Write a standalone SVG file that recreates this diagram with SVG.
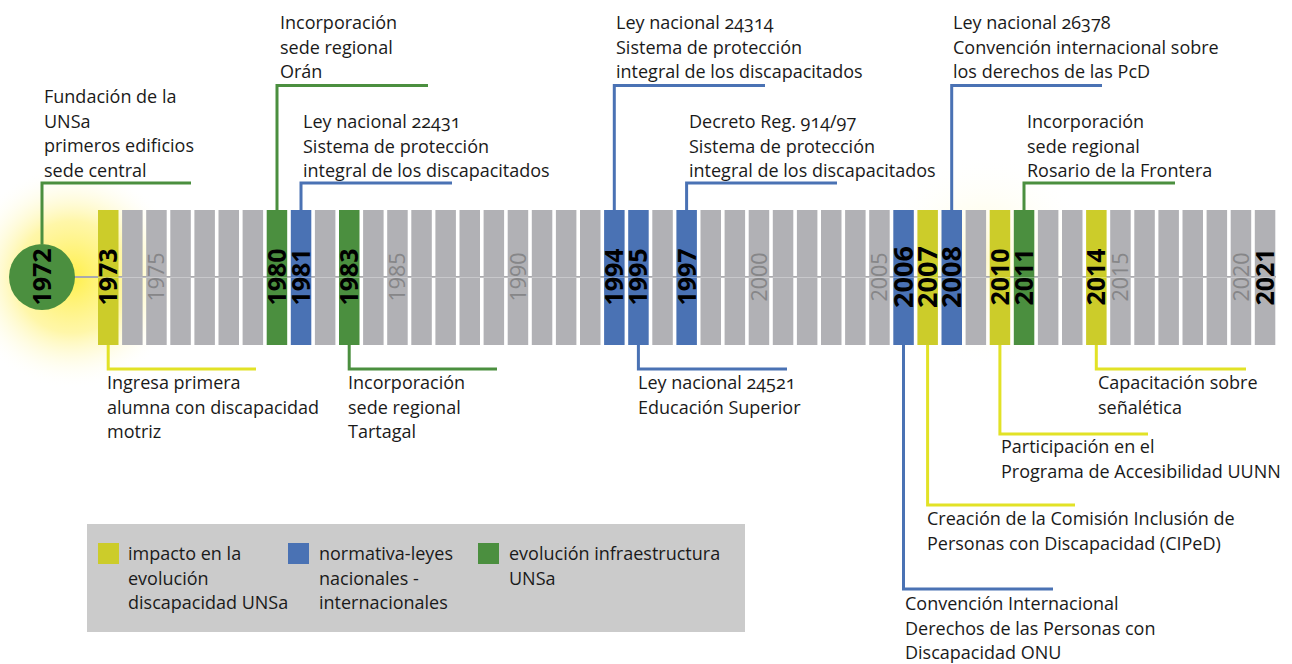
<svg xmlns="http://www.w3.org/2000/svg" width="1292" height="664" viewBox="0 0 1292 664">
  <defs>
    <radialGradient id="glow" cx="72" cy="277" r="112" gradientUnits="userSpaceOnUse">
      <stop offset="0" stop-color="#fff04a" stop-opacity="1"/>
      <stop offset="0.5" stop-color="#fff27a" stop-opacity="0.65"/>
      <stop offset="1" stop-color="#ffffff" stop-opacity="0"/>
    </radialGradient>
    <radialGradient id="glow2" cx="985" cy="260" r="110" gradientUnits="userSpaceOnUse">
      <stop offset="0" stop-color="#fff27a" stop-opacity="0.35"/>
      <stop offset="1" stop-color="#ffffff" stop-opacity="0"/>
    </radialGradient>
    <style>
      .lbl { font-family: "Open Sans", "Liberation Sans", sans-serif; font-size: 18px; font-weight: 500; fill: #1a1a1a; font-variant-numeric: oldstyle-nums; }
      .yr { font-family: "Open Sans", "Liberation Sans", sans-serif; font-size: 25px; font-weight: bold; fill: #000; text-anchor: middle; }
      .yrb { font-size: 27px; }
      .yg { font-family: "Open Sans", "Liberation Sans", sans-serif; font-size: 21.5px; fill: #868688; text-anchor: middle; }
      .bar { stroke: none; }
      .g { fill: #b1b1b5; }
      .Y { fill: #cccc2a; }
      .B { fill: #4a72b4; }
      .G { fill: #4b8f3f; }
      .c { fill: none; stroke-width: 3; stroke-linejoin: miter; stroke-linecap: butt; }
      .cY { stroke: #e2e226; }
      .cB { stroke: #4a72b4; }
      .cG { stroke: #4b8f3f; }
    </style>
  </defs>
  <rect width="1292" height="664" fill="#ffffff"/>
  <circle cx="72" cy="277" r="112" fill="url(#glow)"/>
  <circle cx="985" cy="260" r="110" fill="url(#glow2)"/>
  <line x1="70" y1="277" x2="1276" y2="277" stroke="#a9a9ad" stroke-width="2"/>

  <g id="bars">
    <rect class="bar Y" x="98" y="210" width="20.5" height="135"/>
    <rect class="bar g" x="122.1" y="210" width="20.5" height="135"/>
    <rect class="bar g" x="146.2" y="210" width="20.5" height="135"/>
    <rect class="bar g" x="170.3" y="210" width="20.5" height="135"/>
    <rect class="bar g" x="194.4" y="210" width="20.5" height="135"/>
    <rect class="bar g" x="218.5" y="210" width="20.5" height="135"/>
    <rect class="bar g" x="242.6" y="210" width="20.5" height="135"/>
    <rect class="bar G" x="266.7" y="210" width="20.5" height="135"/>
    <rect class="bar B" x="290.8" y="210" width="20.5" height="135"/>
    <rect class="bar g" x="314.9" y="210" width="20.5" height="135"/>
    <rect class="bar G" x="339" y="210" width="20.5" height="135"/>
    <rect class="bar g" x="363.1" y="210" width="20.5" height="135"/>
    <rect class="bar g" x="387.2" y="210" width="20.5" height="135"/>
    <rect class="bar g" x="411.3" y="210" width="20.5" height="135"/>
    <rect class="bar g" x="435.4" y="210" width="20.5" height="135"/>
    <rect class="bar g" x="459.5" y="210" width="20.5" height="135"/>
    <rect class="bar g" x="483.6" y="210" width="20.5" height="135"/>
    <rect class="bar g" x="507.7" y="210" width="20.5" height="135"/>
    <rect class="bar g" x="531.8" y="210" width="20.5" height="135"/>
    <rect class="bar g" x="555.9" y="210" width="20.5" height="135"/>
    <rect class="bar g" x="580" y="210" width="20.5" height="135"/>
    <rect class="bar B" x="604.1" y="210" width="20.5" height="135"/>
    <rect class="bar B" x="628.2" y="210" width="20.5" height="135"/>
    <rect class="bar g" x="652.3" y="210" width="20.5" height="135"/>
    <rect class="bar B" x="676.4" y="210" width="20.5" height="135"/>
    <rect class="bar g" x="700.5" y="210" width="20.5" height="135"/>
    <rect class="bar g" x="724.6" y="210" width="20.5" height="135"/>
    <rect class="bar g" x="748.7" y="210" width="20.5" height="135"/>
    <rect class="bar g" x="772.8" y="210" width="20.5" height="135"/>
    <rect class="bar g" x="796.9" y="210" width="20.5" height="135"/>
    <rect class="bar g" x="821" y="210" width="20.5" height="135"/>
    <rect class="bar g" x="845.1" y="210" width="20.5" height="135"/>
    <rect class="bar g" x="869.2" y="210" width="20.5" height="135"/>
    <rect class="bar B" x="893.3" y="210" width="20.5" height="135"/>
    <rect class="bar Y" x="917.4" y="210" width="20.5" height="135"/>
    <rect class="bar B" x="941.5" y="210" width="20.5" height="135"/>
    <rect class="bar g" x="965.6" y="210" width="20.5" height="135"/>
    <rect class="bar Y" x="989.7" y="210" width="20.5" height="135"/>
    <rect class="bar G" x="1013.8" y="210" width="20.5" height="135"/>
    <rect class="bar g" x="1037.9" y="210" width="20.5" height="135"/>
    <rect class="bar g" x="1062" y="210" width="20.5" height="135"/>
    <rect class="bar Y" x="1086.1" y="210" width="20.5" height="135"/>
    <rect class="bar g" x="1110.2" y="210" width="20.5" height="135"/>
    <rect class="bar g" x="1134.3" y="210" width="20.5" height="135"/>
    <rect class="bar g" x="1158.4" y="210" width="20.5" height="135"/>
    <rect class="bar g" x="1182.5" y="210" width="20.5" height="135"/>
    <rect class="bar g" x="1206.6" y="210" width="20.5" height="135"/>
    <rect class="bar g" x="1230.7" y="210" width="20.5" height="135"/>
    <rect class="bar g" x="1254.8" y="210" width="20.5" height="135"/>
    <line x1="98" y1="277.5" x2="1276" y2="277.5" stroke="#ffffff" stroke-opacity="0.3" stroke-width="1"/>
  </g>

  <g id="year-labels">
    <text class="yg" transform="translate(164.2,277) rotate(-90)">1975</text>
    <text class="yg" transform="translate(405.2,277) rotate(-90)">1985</text>
    <text class="yg" transform="translate(525.7,277) rotate(-90)">1990</text>
    <text class="yg" transform="translate(766.7,277) rotate(-90)">2000</text>
    <text class="yg" transform="translate(887.2,277) rotate(-90)">2005</text>
    <text class="yg" transform="translate(1128.2,277) rotate(-90)">2015</text>
    <text class="yg" transform="translate(1248.7,277) rotate(-90)">2020</text>
  </g>

  <g id="connectors">
    <path class="c cG" d="M42,244 V183 H191"/>
    <path class="c cG" d="M277,210 V85.5 H428"/>
    <path class="c cB" d="M301,210 V183 H452"/>
    <path class="c cB" d="M614.3,210 V85.5 H765"/>
    <path class="c cB" d="M686.6,210 V183 H837"/>
    <path class="c cB" d="M951.7,210 V85.5 H1102"/>
    <path class="c cG" d="M1024,210 V183 H1175"/>
    <path class="c cY" d="M108.2,345 V369 H256"/>
    <path class="c cG" d="M349.2,345 V369 H497"/>
    <path class="c cB" d="M638.4,345 V369 H787"/>
    <path class="c cY" d="M1096.3,345 V369 H1246"/>
    <path class="c cY" d="M999.9,345 V434 H1148"/>
    <path class="c cY" d="M927.6,345 V505 H1075"/>
    <path class="c cB" d="M903.5,345 V589 H1053"/>
  </g>

  <g id="node-1972">
    <circle cx="42" cy="277" r="33" fill="#4b8f3f"/>
    <text class="yr" transform="translate(50.9,277) rotate(-90)">1972</text>
    <text class="lbl" x="44"><tspan x="44" y="103">Fundación de la</tspan><tspan x="44" y="127.5">UNSa</tspan><tspan x="44" y="152">primeros edificios</tspan><tspan x="44" y="176.5">sede central</tspan></text>
  </g>
  <g id="node-1973">
    <text class="yr" transform="translate(117.1,277) rotate(-90)">1973</text>
    <text class="lbl"><tspan x="107" y="389">Ingresa primera</tspan><tspan x="107" y="413.5">alumna con discapacidad</tspan><tspan x="107" y="438">motriz</tspan></text>
  </g>
  <g id="node-1980">
    <text class="yr" transform="translate(285.8,277) rotate(-90)">1980</text>
    <text class="lbl"><tspan x="280" y="29">Incorporación</tspan><tspan x="280" y="53.5">sede regional</tspan><tspan x="280" y="78">Orán</tspan></text>
  </g>
  <g id="node-1981">
    <text class="yr" transform="translate(309.9,277) rotate(-90)">1981</text>
    <text class="lbl"><tspan x="303" y="128">Ley nacional 22431</tspan><tspan x="303" y="152.5">Sistema de protección</tspan><tspan x="303" y="177">integral de los discapacitados</tspan></text>
  </g>
  <g id="node-1983">
    <text class="yr" transform="translate(358.1,277) rotate(-90)">1983</text>
    <text class="lbl"><tspan x="348" y="389">Incorporación</tspan><tspan x="348" y="413.5">sede regional</tspan><tspan x="348" y="438">Tartagal</tspan></text>
  </g>
  <g id="node-1994">
    <text class="yr" transform="translate(623.2,277) rotate(-90)">1994</text>
    <text class="lbl"><tspan x="616" y="29">Ley nacional 24314</tspan><tspan x="616" y="53.5">Sistema de protección</tspan><tspan x="616" y="78">integral de los discapacitados</tspan></text>
  </g>
  <g id="node-1995">
    <text class="yr" transform="translate(647.3,277) rotate(-90)">1995</text>
    <text class="lbl"><tspan x="638" y="389">Ley nacional 24521</tspan><tspan x="638" y="413.5">Educación Superior</tspan></text>
  </g>
  <g id="node-1997">
    <text class="yr" transform="translate(695.5,277) rotate(-90)">1997</text>
    <text class="lbl"><tspan x="689" y="128">Decreto Reg. 914/97</tspan><tspan x="689" y="152.5">Sistema de protección</tspan><tspan x="689" y="177">integral de los discapacitados</tspan></text>
  </g>
  <g id="node-2006">
    <text class="yr yrb" transform="translate(913.1,277) rotate(-90)">2006</text>
    <text class="lbl"><tspan x="905" y="610">Convención Internacional</tspan><tspan x="905" y="634.5">Derechos de las Personas con</tspan><tspan x="905" y="659">Discapacidad ONU</tspan></text>
  </g>
  <g id="node-2007">
    <text class="yr yrb" transform="translate(937.2,277) rotate(-90)">2007</text>
    <text class="lbl"><tspan x="927" y="525">Creación de la Comisión Inclusión de</tspan><tspan x="927" y="549.5">Personas con Discapacidad (CIPeD)</tspan></text>
  </g>
  <g id="node-2008">
    <text class="yr yrb" transform="translate(961.3,277) rotate(-90)">2008</text>
    <text class="lbl"><tspan x="953" y="29">Ley nacional 26378</tspan><tspan x="953" y="53.5">Convención internacional sobre</tspan><tspan x="953" y="78">los derechos de las PcD</tspan></text>
  </g>
  <g id="node-2010">
    <text class="yr" transform="translate(1008.8,277) rotate(-90)">2010</text>
    <text class="lbl"><tspan x="1001" y="453">Participación en el</tspan><tspan x="1001" y="477.5">Programa de Accesibilidad UUNN</tspan></text>
  </g>
  <g id="node-2011">
    <text class="yr" transform="translate(1032.9,277) rotate(-90)">2011</text>
    <text class="lbl"><tspan x="1027" y="128">Incorporación</tspan><tspan x="1027" y="152.5">sede regional</tspan><tspan x="1027" y="177">Rosario de la Frontera</tspan></text>
  </g>
  <g id="node-2014">
    <text class="yr" transform="translate(1105.2,277) rotate(-90)">2014</text>
    <text class="lbl"><tspan x="1098" y="389">Capacitación sobre</tspan><tspan x="1098" y="413.5">señalética</tspan></text>
  </g>
  <g id="node-2021">
    <text class="yr" transform="translate(1273.9,277) rotate(-90)">2021</text>
  </g>

  <g id="legend">
    <rect x="87" y="524" width="658" height="108" fill="#cbcbcb"/>
    <rect x="98" y="543" width="21" height="21" fill="#cccc2a"/>
    <rect x="288" y="543" width="21" height="21" fill="#4a72b4"/>
    <rect x="478" y="543" width="21" height="21" fill="#4b8f3f"/>
    <text class="lbl"><tspan x="128" y="560">impacto en la</tspan><tspan x="128" y="584.5">evolución</tspan><tspan x="128" y="609">discapacidad UNSa</tspan></text>
    <text class="lbl"><tspan x="319" y="560">normativa-leyes</tspan><tspan x="319" y="584.5">nacionales -</tspan><tspan x="319" y="609">internacionales</tspan></text>
    <text class="lbl"><tspan x="509" y="560">evolución infraestructura</tspan><tspan x="509" y="584.5">UNSa</tspan></text>
  </g>
</svg>
